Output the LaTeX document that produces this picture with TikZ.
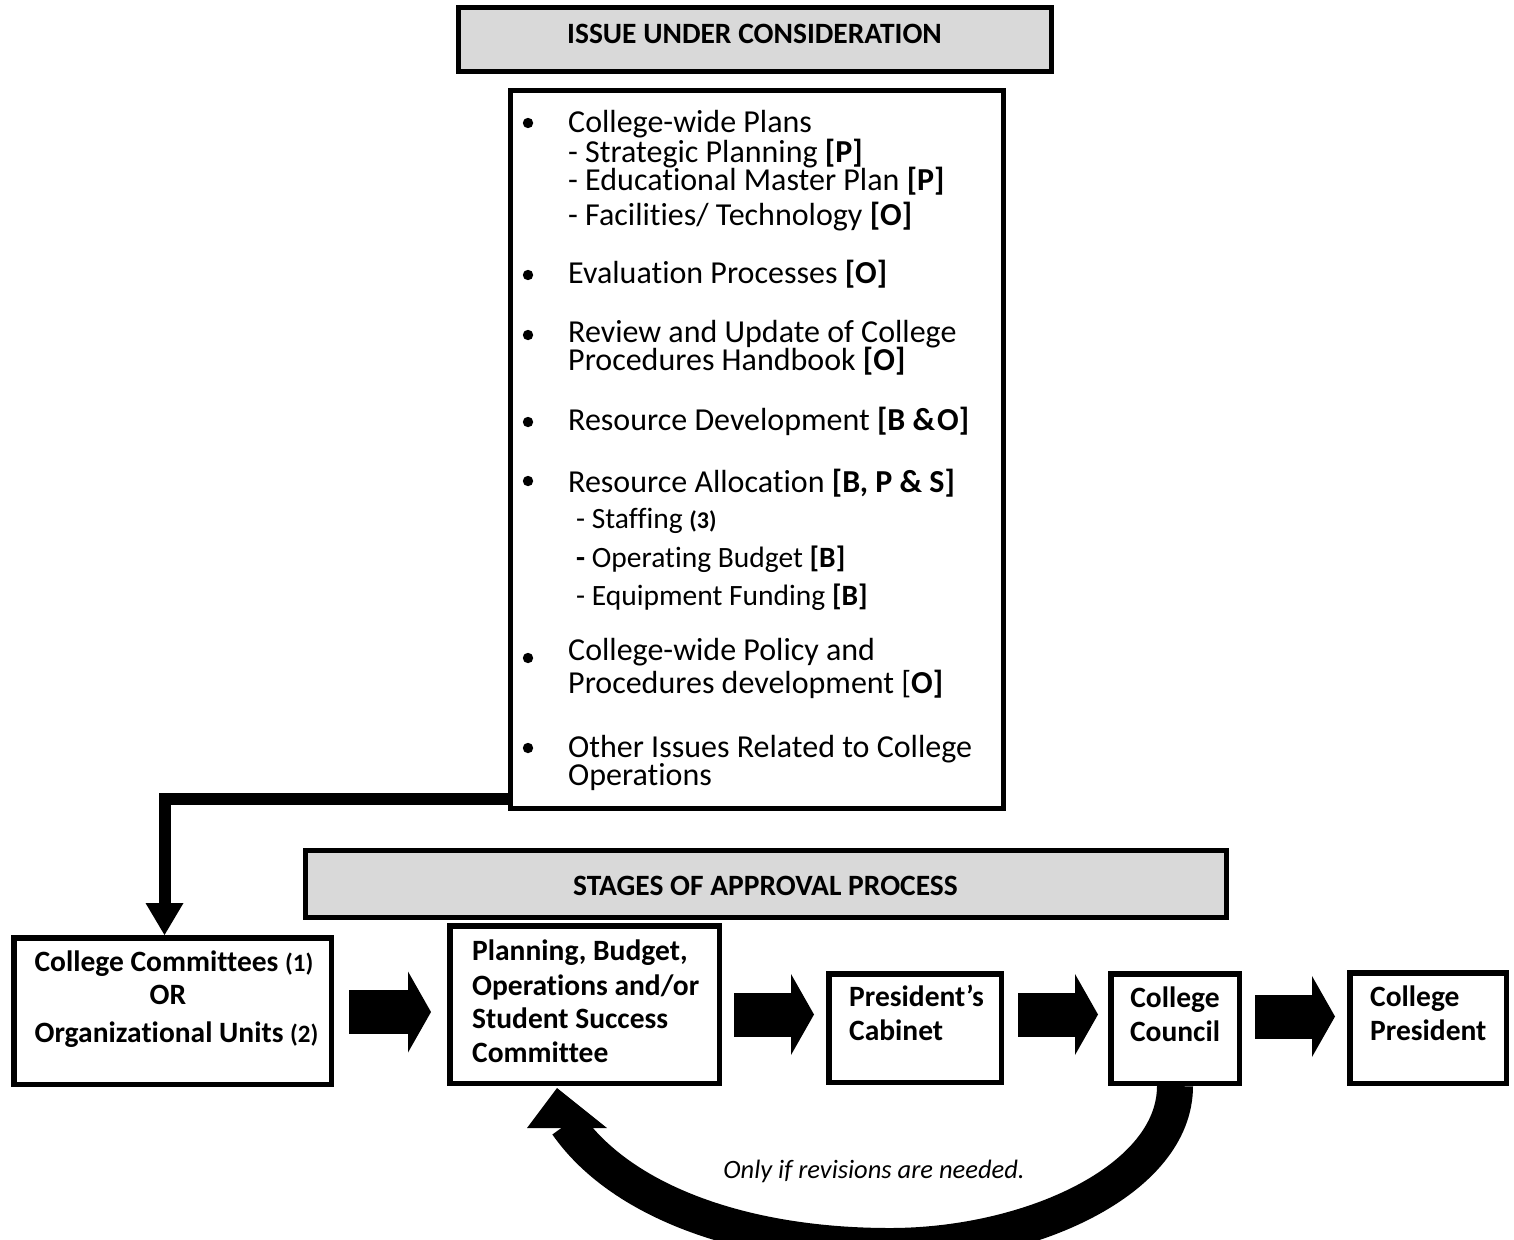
\documentclass[tikz,border=0pt]{standalone}
\usepackage{fontspec}
\setmainfont{Carlito}[Ligatures=NoCommon]
\usetikzlibrary{arrows.meta,calc}
\definecolor{hdrgray}{RGB}{217,217,217}
\begin{document}
\begin{tikzpicture}[x=1pt,y=-1pt,
  hdr/.style={draw=black, line width=5pt, fill=hdrgray, inner sep=0pt},
  lbox/.style={draw=black, line width=5pt, inner sep=0pt},
  sbox/.style={draw=black, line width=5.5pt, inner sep=0pt},
  htxt/.style={anchor=base, inner sep=0pt, font=\bfseries\fontsize{29.5}{29.5}\selectfont},
  ltxt/.style={anchor=base west, inner sep=0pt, text height=21pt, text depth=6pt, font=\fontsize{32}{32}\selectfont},
  stxt/.style={anchor=base west, inner sep=0pt, text height=20pt, text depth=6pt, font=\fontsize{29.5}{29.5}\selectfont},
  btxt/.style={anchor=base west, inner sep=0pt, font=\bfseries\fontsize{29.5}{29.5}\selectfont},
  bctxt/.style={btxt, anchor=base},
  bul/.style={fill=black},
  blockarrow/.style={line width=44pt, -{Triangle[length=23pt,width=81pt,line width=0pt]}},
  elbow/.style={line width=12pt, -{Triangle[length=32pt,width=38pt,line width=0pt]}},
  backshaft/.style={line width=36pt},
  backhead/.style={fill=black},
]
\useasboundingbox (0,0) rectangle (1514,1239);

% ---------- top header ----------
\node[hdr, minimum width=592.5pt, minimum height=64pt] (issue) at (754.75,39.5) {};
\node[htxt] (issuet) at (754.5,44) {ISSUE UNDER CONSIDERATION};

% ---------- list box ----------
\node[lbox, minimum width=493.5pt, minimum height=718.5pt] (list) at (756.75,449.25) {};

\fill[bul] (528,123) circle[radius=5.2pt];
\fill[bul] (528,275) circle[radius=5.2pt];
\fill[bul] (528,335) circle[radius=5.2pt];
\fill[bul] (528,422) circle[radius=5.2pt];
\fill[bul] (528,481) circle[radius=5.2pt];
\fill[bul] (528,658) circle[radius=5.2pt];
\fill[bul] (528,748) circle[radius=5.2pt];

\node[ltxt] (l1) at (568,132) {College-wide Plans};
\node[ltxt] (l2) at (568,162) {- Strategic Planning \textbf{[P]}};
\node[ltxt] (l3) at (568,190) {- Educational Master Plan \textbf{[P]}};
\node[ltxt] (l4) at (568,225) {- Facilities/ Technology \textbf{[O]}};
\node[ltxt] (l5) at (568,283) {Evaluation Processes \textbf{[O]}};
\node[ltxt] (l6) at (568,342) {Review and Update of College};
\node[ltxt] (l7) at (568,370) {Procedures Handbook \textbf{[O]}};
\node[ltxt] (l8) at (568,430) {Resource Development \textbf{[B \&\hspace{2pt}O]}};
\node[ltxt] (l9) at (568,492) {Resource Allocation \textbf{[B, P \& S]}};
\node[stxt] (l10) at (576,528) {- Staffing \textbf{\fontsize{24}{24}\selectfont(3)}};
\node[stxt] (l11) at (576,567) {\textbf{-} Operating Budget \textbf{[B]}};
\node[stxt] (l12) at (576,605) {- Equipment Funding \textbf{[B]}};
\node[ltxt] (l13) at (568,660) {College-wide Policy and};
\node[ltxt] (l14) at (568,693) {Procedures development [\textbf{O]}};
\node[ltxt] (l15) at (568,757) {Other Issues Related to College};
\node[ltxt] (l16) at (568,785) {Operations};

% ---------- stages header ----------
\node[hdr, minimum width=921pt, minimum height=67pt] (stages) at (765.5,884) {};
\node[htxt] (stagest) at (765.5,895) {STAGES OF APPROVAL PROCESS};

% ---------- stage boxes ----------
\node[sbox, minimum width=317.5pt, minimum height=146.5pt] (cc) at (172.5,1011) {};
\node[bctxt] (cc1) at (174,971) {College Committees {\fontsize{25}{25}\selectfont(1)}};
\node[bctxt] (cc2) at (168,1004) {OR};
\node[bctxt] (cc3) at (176.5,1042) {Organizational Units {\fontsize{25}{25}\selectfont(2)}};

\node[sbox, minimum width=269.5pt, minimum height=157.5pt] (pb) at (584.5,1004.5) {};
\node[btxt] (pb1) at (472,960) {Planning, Budget,};
\node[btxt] (pb2) at (472,995) {Operations and/or};
\node[btxt] (pb3) at (472,1028) {Student Success};
\node[btxt] (pb4) at (472,1062) {Committee};

\node[sbox, minimum width=172.5pt, minimum height=108.5pt] (pc) at (915,1028) {};
\node[btxt] (pc1) at (849,1006) {President’s};
\node[btxt] (pc2) at (849,1040) {Cabinet};

\node[sbox, minimum width=128.5pt, minimum height=109.5pt] (council) at (1175,1028.5) {};
\node[bctxt] (co1) at (1175,1007) {College};
\node[bctxt] (co2) at (1175,1041) {Council};

\node[sbox, minimum width=156.5pt, minimum height=110.5pt] (pres) at (1428,1028) {};
\node[btxt] (pr1) at (1370,1006) {College};
\node[btxt] (pr2) at (1370,1040) {President};

% ---------- connectors ----------
\draw[elbow] (list.west |- 0,798.5) -| ($(cc.north)+(-8,0)$);

\coordinate (a1) at ($(cc.east)+(15,1)$);
\draw[blockarrow] (a1) -- ($(pb.west |- a1)+(-16,0)$);
\coordinate (a2) at ($(pb.east)+(12,10)$);
\draw[blockarrow] (a2) -- ($(pc.west |- a2)+(-12,0)$);
\coordinate (a3) at ($(pc.east)+(14,-13.5)$);
\draw[blockarrow] (a3) -- ($(council.west |- a3)+(-10,0)$);
\coordinate (a4) at ($(council.east)+(13,-12)$);
\draw[blockarrow] (a4) -- ($(pres.west |- a4)+(-12,0)$);

% curved return arrow: College Council -> Planning committee
\coordinate (bmid) at (890,1246);
\coordinate (hbase) at ($(pb.south)+(-17.5,38)$);
\draw[backshaft] (council.south) .. controls +(0,94) and (1030,1246) .. (bmid)
   .. controls (740,1246) and (620,1200) .. (hbase);
\fill[backhead] ($(pb.south)+(-27.5,2)$) -- ($(pb.south)+(-57.5,42)$) -- ($(pb.south)+(22.5,42)$) -- cycle;

\node[anchor=base, inner sep=0pt, font=\itshape\fontsize{26.5}{26.5}\selectfont] (note) at (874,1178) {Only if revisions are needed.};
\end{tikzpicture}
\end{document}
